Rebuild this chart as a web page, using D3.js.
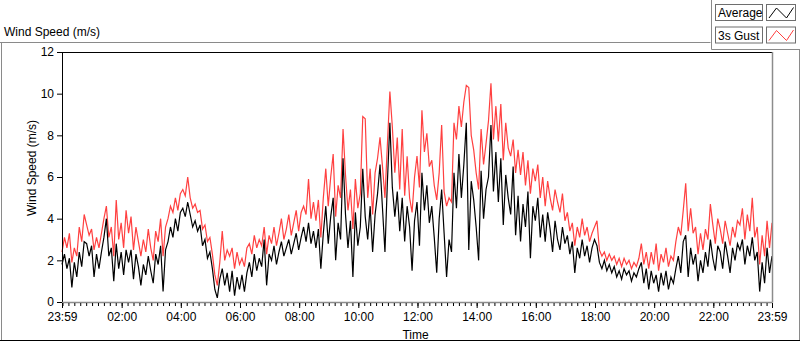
<!DOCTYPE html>
<html>
<head>
<meta charset="utf-8">
<script src="https://cdn.jsdelivr.net/npm/d3@7"></script>
<style>
  html, body { margin: 0; padding: 0; background: #fff; }
  svg { display: block; }
  text { font-family: "Liberation Sans", Arial, sans-serif; fill: #000; }
</style>
</head>
<body>
<svg id="chart" width="800" height="342"></svg>
<script>
// ---------------- data ----------------
const chartTitle = "Wind Speed (m/s)";
const yTitle = "Wind Speed (m/s)";
const xTitle = "Time";
const seriesNames = ["Average", "3s Gust"];
const sampleMinutes = 5;   // one reading every 5 minutes, starting 23:59
const yTicks = [0, 2, 4, 6, 8, 10, 12];
const xTickLabels = ["23:59", "02:00", "04:00", "06:00", "08:00", "10:00", "12:00",
                     "14:00", "16:00", "18:00", "20:00", "22:00", "23:59"];

const average = [
  1.8, 2.3, 1.6, 2.1,
  0.7, 1.9, 1.2,
  2.4, 1.7, 2.9,
  2.8, 2.2, 2.7,
  1.2, 2.3, 1.6, 2.4,
  3.1, 4.0, 2.2,
  2.6, 1.0, 2.8, 1.6, 2.4, 1.3, 2.5,
  1.9, 2.5, 1.1, 2.3, 1.7,
  0.8, 1.8, 1.3, 2.2, 1.5, 0.9,
  2.3, 1.8, 2.7, 0.5, 2.5,
  2.9, 3.6, 3.1, 4.0, 3.4, 4.3,
  4.5, 4.1, 4.8, 4.2,
  3.6, 3.9, 3.4, 3.7,
  2.7, 3.0, 2.1, 2.4, 1.6,
  0.6, 0.2, 1.1,
  1.6, 0.8, 1.4,
  0.5, 1.5, 0.3, 1.2, 0.6,
  1.3, 0.5, 1.4,
  1.9, 1.2, 2.3, 1.5, 2.1, 1.7,
  3.0, 0.8,
  2.3, 2.0, 2.7, 1.8, 2.4, 2.9, 2.2, 2.6, 3.0, 2.3, 2.8, 3.3, 2.5, 3.1,
  3.6, 2.9, 3.8, 2.8, 3.4, 2.6, 3.5, 1.6,
  3.3, 4.6, 2.8, 4.1, 5.0,
  2.0, 3.8, 3.0, 6.9, 4.2, 2.6,
  3.9, 1.2, 4.3, 2.7, 3.6,
  6.4, 4.1, 3.0, 4.6, 2.4, 4.2,
  5.2, 6.6, 4.5, 2.4, 5.8,
  8.6, 5.5,
  4.1, 5.3, 3.4, 5.0, 2.9, 4.6, 3.6, 1.5, 3.9,
  4.8, 2.7, 6.2, 4.4, 5.6, 3.8,
  4.6, 3.1, 1.4, 4.0, 5.4,
  3.3, 1.2, 3.0, 2.4,
  6.2, 4.5, 7.1, 5.0, 6.6, 8.6, 2.5, 5.8,
  4.9, 3.6, 2.0, 6.3, 4.0, 5.4,
  6.0, 8.5, 5.3, 7.2,
  4.8, 6.9, 3.7, 6.1, 5.0,
  4.2, 6.5, 3.2, 5.1, 2.9, 4.7,
  3.6, 5.3, 2.1, 4.6, 3.9, 5.0, 3.1, 4.2,
  2.9, 4.3, 3.5, 2.4, 3.9, 3.0, 2.5, 3.6,
  2.8, 3.2, 2.3, 2.9, 1.4, 2.6, 2.1, 3.0, 2.2, 2.7, 1.9,
  2.6, 3.0, 2.7,
  1.9, 1.6, 2.0, 1.5, 1.8,
  1.4, 1.7, 1.2, 1.5, 1.1, 1.6, 1.3, 1.5, 1.0, 1.4, 1.2, 1.6,
  1.9, 0.9, 1.6,
  0.6, 1.5, 0.9, 1.3, 0.5, 1.4, 0.8, 1.5, 0.6, 1.2, 0.9, 1.6,
  2.2, 1.4, 2.9, 3.2, 1.2, 2.6, 1.8,
  2.3, 1.0, 2.0, 1.4, 2.4, 1.7,
  3.0, 2.1, 1.5, 2.7,
  2.4, 1.6, 2.9, 2.2, 1.4, 2.6, 2.0, 2.8,
  2.5, 3.0, 1.8, 2.7, 2.2, 3.1, 2.0, 2.4,
  0.5, 1.9, 0.9, 2.6, 1.4, 2.2
];

const gust = [
  2.4, 3.1, 2.6, 3.3,
  1.9, 2.6, 2.2,
  3.6, 2.9, 4.2,
  3.7, 3.2, 3.5,
  2.5, 3.1, 2.6, 3.3,
  4.0, 4.6, 3.1,
  3.6, 2.2, 4.9, 3.0, 3.8, 2.6, 4.4,
  3.3, 4.1, 2.5, 3.6, 2.9,
  2.2, 3.0, 2.4, 3.5, 2.6, 2.0,
  3.4, 2.9, 4.0, 2.2, 3.6,
  4.0, 4.6, 4.3, 5.0, 4.4, 5.2,
  5.4, 5.1, 6.0, 5.0,
  4.5, 4.7, 4.3, 4.4,
  3.5, 3.7, 2.9, 3.1, 2.3,
  1.3, 0.8, 1.9,
  3.4, 2.0, 2.5,
  2.2, 2.6, 1.6, 2.4, 1.8,
  2.1, 1.7, 2.6,
  2.8, 2.3, 3.2, 2.6, 3.0, 2.7,
  3.6, 2.3,
  3.2, 2.8, 3.6, 2.7, 3.3, 4.0, 3.0, 3.5, 4.2, 3.2, 3.8, 4.4, 3.4, 4.3,
  4.6, 4.2, 5.9, 4.0, 4.8, 3.9, 4.9, 3.1,
  5.0, 6.4, 4.6, 6.0, 7.1,
  4.1, 5.6, 5.0, 8.3, 6.1, 4.4,
  5.4, 3.5, 5.9, 4.5, 5.2,
  8.9, 8.8, 5.0, 6.4, 4.2, 6.2,
  6.9, 7.9, 6.5, 5.0, 7.6,
  10.1, 8.4,
  6.2, 7.9, 5.4, 8.3, 5.1, 7.0, 5.0, 4.3, 6.0,
  7.0, 5.5, 9.2, 7.2, 8.1, 6.5,
  6.8, 5.6, 4.9, 6.2, 8.5,
  5.3, 4.6, 5.0, 4.8,
  8.6, 7.8, 9.4, 8.4, 9.6, 10.4, 10.3, 8.0,
  7.3, 6.2, 5.4, 8.3, 6.6, 7.6,
  8.7, 10.5, 7.8, 9.4,
  7.7, 9.5, 6.8, 8.6, 7.4,
  7.0, 7.8, 6.2, 7.3, 6.1, 7.2,
  5.6, 6.8, 5.2, 6.4, 5.8, 6.6, 5.0, 6.0,
  4.6, 5.8, 5.0, 4.4, 5.4, 4.8, 4.3, 5.2,
  3.9, 4.3, 3.4, 3.8, 2.7, 3.6, 3.1, 4.0, 3.2, 3.6, 2.9,
  3.3, 3.6, 3.9,
  2.5, 2.2, 2.4, 2.0, 2.3,
  2.0, 2.2, 1.8, 2.1, 1.7, 2.1, 1.8, 2.0, 1.6, 1.9, 1.7, 2.1,
  2.8, 1.8, 2.4,
  1.6, 2.4, 1.8, 2.8, 1.5, 2.3, 1.9, 2.6, 1.7, 2.2, 2.0, 2.9,
  3.6, 3.2, 4.4, 5.7, 3.4, 4.5, 3.3,
  3.6, 2.3, 3.3, 2.5, 3.5, 3.0,
  4.7, 3.7, 2.8, 4.0,
  3.5, 2.8, 3.9, 3.3, 2.7, 3.6, 3.1, 3.9,
  3.7, 4.5, 3.0, 4.2, 3.4, 5.0, 3.1, 3.6,
  1.8, 3.2, 2.2, 3.9, 2.6, 3.8
];

// ---------------- layout ----------------
const svg = d3.select("#chart");
const plot = { left: 62, right: 772, top: 52, bottom: 302 };
const t0 = new Date(2020, 0, 1, 23, 59);
const t1 = new Date(2020, 0, 2, 23, 59);
const timeAt = i => new Date(t0.getTime() + i * sampleMinutes * 60000);

const x = d3.scaleTime().domain([t0, t1]).range([plot.left, plot.right]);
const y = d3.scaleLinear().domain([0, 12]).range([plot.bottom, plot.top]);

// outer panel frame
svg.append("line").attr("x1", 0).attr("x2", 710.5).attr("y1", 42.5).attr("y2", 42.5).attr("stroke", "#8a8a8a");
svg.append("line").attr("x1", 1.5).attr("x2", 1.5).attr("y1", 42.5).attr("y2", 341).attr("stroke", "#8a8a8a");
svg.append("line").attr("x1", 711.5).attr("x2", 711.5).attr("y1", 0).attr("y2", 49.5).attr("stroke", "#8a8a8a");
svg.append("line").attr("x1", 711.5).attr("x2", 800).attr("y1", 49.5).attr("y2", 49.5).attr("stroke", "#8a8a8a");
svg.append("line").attr("x1", 799.5).attr("x2", 799.5).attr("y1", 49.5).attr("y2", 341).attr("stroke", "#8a8a8a");
svg.append("line").attr("x1", 0).attr("x2", 800).attr("y1", 340.5).attr("y2", 340.5).attr("stroke", "#000");

// chart title
svg.append("text").attr("x", 4).attr("y", 35.5).attr("font-size", 12).text(chartTitle);

// plot background
svg.append("rect").attr("x", plot.left).attr("y", plot.top)
  .attr("width", plot.right - plot.left).attr("height", plot.bottom - plot.top).attr("fill", "#fff");

// series
const line = d3.line().x((d, i) => x(timeAt(i))).y(d => y(d));
const gPlot = svg.append("g");
gPlot.append("path").datum(gust).attr("d", line).attr("fill", "none")
  .attr("stroke", "#ff4040").attr("stroke-width", 1.2).attr("stroke-linejoin", "miter");
gPlot.append("path").datum(average).attr("d", line).attr("fill", "none")
  .attr("stroke", "#000").attr("stroke-width", 1.2).attr("stroke-linejoin", "miter");

// plot frame: dark top/left, gray bottom/right
svg.append("line").attr("x1", plot.left + 0.5).attr("x2", plot.right).attr("y1", plot.top + 0.5).attr("y2", plot.top + 0.5).attr("stroke", "#000");
svg.append("line").attr("x1", plot.left + 0.5).attr("x2", plot.left + 0.5).attr("y1", plot.top).attr("y2", plot.bottom).attr("stroke", "#000");
svg.append("line").attr("x1", plot.left).attr("x2", plot.right + 0.5).attr("y1", plot.bottom + 0.5).attr("y2", plot.bottom + 0.5).attr("stroke", "#8c8c8c").attr("stroke-width", 1.5);
svg.append("line").attr("x1", plot.right + 0.5).attr("x2", plot.right + 0.5).attr("y1", plot.top).attr("y2", plot.bottom + 0.5).attr("stroke", "#8c8c8c").attr("stroke-width", 1.5);

// y axis
const yAxis = d3.axisLeft(y).tickValues(yTicks).tickSize(5).tickPadding(3).tickFormat(d3.format("d"));
const gy = svg.append("g").attr("transform", `translate(${plot.left},0)`).call(yAxis);
gy.select(".domain").remove();
gy.selectAll(".tick line").attr("stroke", "#000");
gy.selectAll(".tick text").attr("font-size", 12).attr("font-family", "Liberation Sans, Arial, sans-serif").attr("fill", "#000");

// x axis — major ticks with labels
const majorTimes = xTickLabels.map((lab, k) => {
  if (k === 0) return t0;
  if (k === xTickLabels.length - 1) return t1;
  const [h, m] = lab.split(":").map(Number);
  return new Date(2020, 0, 2, h, m);
});
const xAxis = d3.axisBottom(x).tickValues(majorTimes).tickSize(5).tickPadding(4)
  .tickFormat((d, k) => xTickLabels[k]);
const gx = svg.append("g").attr("transform", `translate(0,${plot.bottom + 1})`).call(xAxis);
gx.select(".domain").remove();
gx.selectAll(".tick line").attr("stroke", "#000");
gx.selectAll(".tick text").attr("font-size", 12).attr("font-family", "Liberation Sans, Arial, sans-serif").attr("fill", "#000");

// x axis — minor ticks every 12 minutes
const minorTimes = d3.timeMinute.every(12).range(new Date(2020, 0, 2, 0, 0), t1);
const xMinor = d3.axisBottom(x).tickValues(minorTimes).tickSize(3).tickFormat("");
const gxm = svg.append("g").attr("transform", `translate(0,${plot.bottom + 1})`).call(xMinor);
gxm.select(".domain").remove();
gxm.selectAll(".tick line").attr("stroke", "#000");

// axis titles
svg.append("text").attr("x", 415.5).attr("y", 338.5).attr("text-anchor", "middle").attr("font-size", 12).text(xTitle);
svg.append("text").attr("transform", "translate(36,168) rotate(-90)").attr("text-anchor", "middle")
  .attr("font-size", 12).text(yTitle);

// legend
const legColors = ["#000", "#ff4040"];
const leg = svg.append("g");
seriesNames.forEach((name, k) => {
  const top = 4 + k * 22.5;
  const g = leg.append("g");
  g.append("rect").attr("x", 715.5).attr("y", top + 0.5).attr("width", 47).attr("height", 16)
    .attr("fill", "#fff").attr("stroke", "#6e6e6e");
  g.append("text").attr("x", 718).attr("y", top + 13).attr("font-size", 12).text(name);
  g.append("rect").attr("x", 766.5).attr("y", top + 0.5).attr("width", 29).attr("height", 16)
    .attr("fill", "#fff").attr("stroke", "#6e6e6e");
  const zig = [[769, top + 14], [776.5, top + 4], [786.5, top + 14], [793.5, top + 3.5]];
  g.append("path").attr("d", d3.line()(zig)).attr("fill", "none").attr("stroke", legColors[k]).attr("stroke-width", 1);
});
</script>
</body>
</html>
